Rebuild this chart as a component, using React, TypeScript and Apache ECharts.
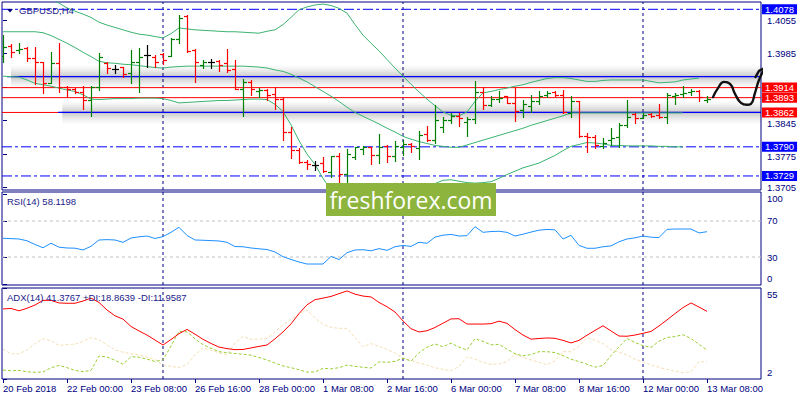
import React, { useEffect, useRef } from "react";
import * as echarts from "echarts";

const timeLabels = ["20 Feb 2018", "22 Feb 00:00", "23 Feb 08:00", "26 Feb 16:00", "28 Feb 00:00", "1 Mar 08:00", "2 Mar 16:00", "6 Mar 00:00", "7 Mar 08:00", "8 Mar 16:00", "12 Mar 00:00", "13 Mar 08:00"];
const timeLabelIdx = [0, 8, 16, 24, 32, 40, 48, 56, 64, 72, 80, 88];
const weekSeparators = [20, 50, 80];

const open = [1.3980,1.4001,1.3993,1.3997,1.3976,1.3968,1.3924,1.3966,1.3915,1.3911,
1.3905,1.3888,1.3915,1.3966,1.3953,1.3957,1.3945,1.3968,1.3982,1.3978,
1.3984,1.3980,1.4016,1.4064,1.3993,1.3961,1.3968,1.3970,1.3966,1.3953,
1.3911,1.3926,1.3907,1.3909,1.3901,1.3890,1.3821,1.3783,1.3758,1.3752,
1.3756,1.3737,1.3771,1.3733,1.3769,1.3785,1.3790,1.3773,1.3792,1.3771,
1.3790,1.3796,1.3788,1.3817,1.3804,1.3832,1.3846,1.3855,1.3842,1.3848,
1.3905,1.3878,1.3890,1.3896,1.3882,1.3867,1.3876,1.3886,1.3899,1.3905,
1.3899,1.3861,1.3886,1.3813,1.3811,1.3792,1.3804,1.3811,1.3836,1.3859,
1.3850,1.3859,1.3857,1.3853,1.3896,1.3901,1.3905,1.3907,1.3888];
const high = [1.4024,1.4005,1.4007,1.3999,1.3999,1.3968,1.3989,1.4007,1.3917,1.3913,
1.3917,1.3917,1.3987,1.3968,1.3961,1.3957,1.3993,1.3997,1.4003,1.3982,
1.3987,1.4018,1.4066,1.4066,1.3995,1.3972,1.3974,1.3972,1.3995,1.3972,
1.3932,1.3930,1.3913,1.3911,1.3915,1.3894,1.3832,1.3788,1.3762,1.3760,
1.3769,1.3771,1.3777,1.3785,1.3790,1.3792,1.3790,1.3817,1.3794,1.3802,
1.3804,1.3798,1.3823,1.3834,1.3878,1.3853,1.3861,1.3861,1.3853,1.3928,
1.3915,1.3896,1.3907,1.3896,1.3913,1.3888,1.3899,1.3907,1.3907,1.3907,
1.3909,1.3896,1.3886,1.3819,1.3815,1.3809,1.3829,1.3840,1.3888,1.3861,
1.3861,1.3861,1.3880,1.3903,1.3903,1.3917,1.3911,1.3909,1.3896];
const low = [1.3968,1.3978,1.3987,1.3970,1.3922,1.3903,1.3924,1.3905,1.3894,1.3903,
1.3869,1.3855,1.3909,1.3945,1.3945,1.3936,1.3924,1.3905,1.3957,1.3957,
1.3964,1.3980,1.4007,1.3989,1.3926,1.3955,1.3955,1.3949,1.3947,1.3911,
1.3855,1.3899,1.3894,1.3888,1.3869,1.3804,1.3767,1.3756,1.3744,1.3742,
1.3737,1.3727,1.3710,1.3714,1.3765,1.3775,1.3754,1.3756,1.3758,1.3760,
1.3773,1.3779,1.3765,1.3802,1.3798,1.3821,1.3840,1.3834,1.3813,1.3840,
1.3869,1.3876,1.3884,1.3882,1.3844,1.3853,1.3863,1.3880,1.3894,1.3896,
1.3861,1.3853,1.3811,1.3779,1.3788,1.3788,1.3794,1.3790,1.3832,1.3840,
1.3850,1.3853,1.3850,1.3840,1.3880,1.3894,1.3899,1.3886,1.3884];
const close = [1.3999,1.3989,1.3995,1.3976,1.3968,1.3924,1.3966,1.3915,1.3911,1.3905,
1.3888,1.3915,1.3978,1.3955,1.3953,1.3943,1.3968,1.3978,1.3982,1.3968,
1.3972,1.4016,1.4060,1.3991,1.3968,1.3968,1.3968,1.3961,1.3951,1.3911,
1.3926,1.3911,1.3909,1.3899,1.3890,1.3821,1.3783,1.3758,1.3754,1.3752,
1.3739,1.3771,1.3733,1.3775,1.3790,1.3790,1.3773,1.3790,1.3771,1.3792,
1.3796,1.3792,1.3815,1.3804,1.3846,1.3846,1.3855,1.3850,1.3848,1.3905,
1.3878,1.3890,1.3892,1.3882,1.3865,1.3880,1.3886,1.3896,1.3903,1.3899,
1.3863,1.3886,1.3813,1.3811,1.3794,1.3798,1.3809,1.3836,1.3853,1.3850,
1.3857,1.3855,1.3853,1.3899,1.3899,1.3903,1.3907,1.3894,1.3890];

const bbUpper = [1.4139,1.4131,1.4123,1.4116,1.4110,1.4106,1.4100,1.4091,1.4081,1.4074,
1.4068,1.4061,1.4051,1.4045,1.4040,1.4035,1.4030,1.4026,1.4024,1.4021,
1.4018,1.4027,1.4039,1.4037,1.4035,1.4034,1.4033,1.4032,1.4031,1.4031,
1.4030,1.4029,1.4028,1.4032,1.4035,1.4046,1.4061,1.4077,1.4083,1.4087,
1.4089,1.4086,1.4080,1.4070,1.4046,1.4024,1.4007,1.3991,1.3973,1.3955,
1.3938,1.3921,1.3905,1.3890,1.3876,1.3863,1.3856,1.3855,1.3863,1.3885,
1.3903,1.3906,1.3910,1.3913,1.3917,1.3920,1.3925,1.3929,1.3933,1.3935,
1.3935,1.3933,1.3930,1.3927,1.3927,1.3929,1.3930,1.3930,1.3930,1.3930,
1.3930,1.3927,1.3924,1.3925,1.3926,1.3930,1.3932,1.3934,null];
const bbMiddle = [1.4031,1.4031,1.4031,1.4031,1.4031,1.4029,1.4023,1.4015,1.4007,1.3998,
1.3988,1.3979,1.3969,1.3966,1.3965,1.3963,1.3962,1.3960,1.3958,1.3956,
1.3955,1.3957,1.3958,1.3959,1.3959,1.3959,1.3959,1.3959,1.3959,1.3959,
1.3959,1.3958,1.3957,1.3955,1.3951,1.3948,1.3942,1.3934,1.3926,1.3916,
1.3906,1.3896,1.3885,1.3873,1.3862,1.3854,1.3846,1.3838,1.3829,1.3821,
1.3812,1.3806,1.3801,1.3797,1.3793,1.3791,1.3789,1.3789,1.3794,1.3799,
1.3804,1.3809,1.3814,1.3819,1.3824,1.3829,1.3835,1.3840,1.3845,1.3850,
1.3855,1.3861,1.3861,1.3861,1.3861,1.3861,1.3861,1.3861,1.3861,1.3861,
1.3861,1.3861,1.3861,1.3861,1.3861,1.3861,null,null,null];
const bbLower = [1.3938,1.3937,1.3936,1.3930,1.3923,1.3920,1.3917,1.3913,1.3909,1.3906,
1.3899,1.3890,1.3889,1.3890,1.3891,1.3891,1.3891,1.3892,1.3892,1.3892,
1.3891,1.3887,1.3882,1.3883,1.3884,1.3885,1.3886,1.3887,1.3887,1.3888,
1.3889,1.3890,1.3890,1.3889,1.3879,1.3864,1.3836,1.3803,1.3775,1.3753,
1.3724,1.3700,1.3681,1.3666,1.3656,1.3647,1.3643,1.3641,1.3643,1.3649,
1.3658,1.3670,1.3685,1.3702,1.3713,1.3720,1.3721,1.3718,1.3715,1.3714,
1.3715,1.3717,1.3724,1.3732,1.3739,1.3746,1.3751,1.3756,1.3764,1.3772,
1.3782,1.3791,1.3795,1.3799,1.3798,1.3796,1.3793,1.3793,1.3792,1.3792,
1.3792,1.3792,1.3791,1.3791,1.3790,1.3790,null,null,null];

const rsi = [50.8,50.4,50.0,48.0,43.9,40.3,45.3,40.9,40.0,39.8,
37.8,41.9,48.9,49.3,48.9,46.3,51.1,52.4,53.3,50.6,
52.6,57.4,63.0,53.9,48.9,48.6,48.2,47.8,46.3,41.6,
41.4,40.0,39.1,38.3,35.6,30.3,27.3,24.4,22.2,22.2,
22.2,30.6,27.2,34.8,37.8,38.1,36.9,39.3,37.4,41.4,
42.8,41.8,46.4,45.2,52.1,54.2,55.1,53.3,53.7,63.7,
57.4,58.3,58.6,57.4,53.3,55.3,57.7,59.8,60.6,60.2,
50.0,54.1,42.8,39.7,39.7,41.4,42.3,46.9,50.0,51.3,
53.3,52.0,51.6,60.7,61.1,61.1,61.1,56.7,58.12];
const adx = [42.8,43.1,41.7,43.2,45.1,47.8,47.8,46.3,46.1,46.1,
47.4,49.1,46.6,42.2,38.8,36.9,32.6,30.0,27.6,24.7,
21.8,25.0,28.4,30.9,28.1,25.1,22.7,20.6,19.7,19.1,
19.2,20.1,21.0,21.8,25.4,29.4,34.1,40.1,45.2,48.2,
49.1,50.1,51.7,53.3,51.4,50.3,49.8,46.6,44.1,41.0,
35.8,31.3,29.4,30.1,32.0,34.5,37.0,37.1,34.0,34.0,
34.0,34.2,35.7,34.4,30.8,27.6,25.2,25.6,25.9,25.7,
24.5,23.0,24.5,27.5,30.3,33.0,30.0,27.0,26.9,27.6,
28.6,29.7,32.9,36.4,40.1,43.6,46.3,43.9,41.38];
const plusDI = [7.2,6.8,7.0,6.2,5.9,6.1,8.5,9.9,8.6,7.0,
6.3,7.0,15.4,14.8,12.9,10.6,15.0,14.7,13.6,12.2,
13.1,21.2,29.8,29.5,25.4,22.0,19.9,17.9,17.3,16.9,
16.4,15.9,14.5,13.1,11.3,9.6,8.6,7.4,6.0,6.1,
8.2,7.9,8.6,10.1,9.4,8.8,8.4,12.0,11.7,12.3,
14.1,12.4,17.3,20.5,22.4,20.8,22.9,20.6,18.9,25.5,
23.9,21.9,22.2,19.4,16.7,15.5,16.2,17.9,17.9,17.4,
15.6,13.5,12.2,10.6,8.9,9.9,15.6,20.7,25.6,23.3,
21.4,20.4,24.0,26.2,26.7,27.8,25.6,22.2,18.86];
const minusDI = [19.5,16.7,16.6,18.9,22.6,25.5,24.3,21.5,22.1,22.3,
23.8,26.1,24.9,21.9,19.0,17.6,16.7,16.0,14.7,13.4,
10.2,9.4,8.7,10.4,16.0,20.2,18.7,17.3,16.0,23.0,
26.8,25.1,25.2,25.7,29.5,33.5,36.7,40.0,42.2,37.5,
33.8,32.1,31.5,31.5,26.1,20.8,22.6,21.0,19.3,17.1,
14.4,12.9,11.3,10.1,8.6,7.6,6.9,9.2,15.0,13.5,
11.7,10.5,10.9,12.1,16.6,14.5,13.1,11.7,10.3,12.5,
17.9,17.9,21.2,26.1,24.6,22.6,19.2,17.6,16.0,13.6,
12.0,10.2,8.8,7.6,6.5,5.7,6.3,12.0,11.96];

const priceTicks = [1.4055, 1.3985, 1.3915, 1.3845, 1.3775, 1.3705];
const priceLabels = [1.4055, 1.3985, 1.3845, 1.3775, 1.3705];
const shiftedPriceLabels = [1.3845, 1.3775];
const rsiTicks = [0, 30, 70, 100];
const rsiLevels = [70, 30];
const adxTicks = [2, 55];
const dashedLevels = [1.4078, 1.3790, 1.3729];
const redLevels = [1.3914, 1.3893, 1.3862];
const zoneLines = [{ value: 1.3937, from: 0.5 }, { value: 1.3862, from: 6.9 }];

const arrowShaft = [[88.75,1.3894],[89.375,1.3913],[90.125,1.3926],[90.875,1.3922],[91.5,1.3901],[92.25,1.3882],[93.0,1.3878],[93.5,1.3880],[94.0,1.3903],[94.5,1.3930],[95.125,1.3951],[95.625,1.3959]];
const arrowHead = [[94.06,1.3936],[94.5,1.3949],[95.6,1.3958],[95.45,1.3942]];

const NAVY = "#000080";
const BLUE = "#0000FF";
const RED = "#FF0000";
const BAND = "#3CB371";
const FONT = "Liberation Sans";
const FS = 9.5;
const X_MIN = -0.125;
const X_MAX = 94.75;
const P_MIN = 1.36996;
const P_MAX = 1.40933;
const R_MIN = -1.1;
const R_MAX = 102.2;
const A_MIN = 2;
const A_MAX = 55;

function buildOption() {
  const xAxis = [0, 1, 2].map((g) => ({
    type: "value",
    gridIndex: g,
    min: X_MIN,
    max: X_MAX,
    splitLine: { show: false },
    axisLine: { show: false },
    axisTick: g === 2 ? { show: true, customValues: timeLabelIdx, length: 4, lineStyle: { color: NAVY } } : { show: false },
    axisLabel: g === 2 ? {
      show: true,
      customValues: timeLabelIdx,
      formatter: (v: number) => timeLabels[timeLabelIdx.indexOf(Math.round(v))] ?? "",
      align: "left",
      margin: 4,
      color: NAVY,
      fontSize: FS,
      fontFamily: FONT,
    } : { show: false },
  }));

  const labelBase = { color: NAVY, fontSize: FS, fontFamily: FONT, lineHeight: 10 };
  const yAxis = [
    {
      type: "value", gridIndex: 0, position: "right", min: P_MIN, max: P_MAX, scale: true,
      splitLine: { show: false }, axisLine: { show: false },
      axisTick: { show: true, customValues: priceTicks, length: 4, lineStyle: { color: NAVY } },
      axisLabel: {
        customValues: priceLabels, margin: 6, ...labelBase,
        formatter: (v: number) => (shiftedPriceLabels.some((s) => Math.abs(v - s) < 1e-6) ? "{d|" + v.toFixed(4) + "}" : v.toFixed(4)),
        rich: { d: { ...labelBase, lineHeight: 9, padding: [5, 0, 0, 0] } },
      },
    },
    {
      type: "value", gridIndex: 1, position: "right", min: R_MIN, max: R_MAX,
      splitLine: { show: false }, axisLine: { show: false },
      axisTick: { show: true, customValues: rsiTicks, length: 4, lineStyle: { color: NAVY } },
      axisLabel: {
        customValues: rsiTicks, margin: 6, ...labelBase,
        formatter: (v: number) => (v === 100 ? "{a|100}" : v === 0 ? "{b|0}" : String(v)),
        rich: { a: { ...labelBase, padding: [10, 0, 0, 0] }, b: { ...labelBase, padding: [0, 0, 12, 0] } },
      },
    },
    {
      type: "value", gridIndex: 2, position: "right", min: A_MIN, max: A_MAX,
      splitLine: { show: false }, axisLine: { show: false },
      axisTick: { show: true, customValues: adxTicks, length: 4, lineStyle: { color: NAVY } },
      axisLabel: {
        customValues: adxTicks, margin: 6, ...labelBase,
        formatter: (v: number) => (v === 55 ? "{a|55}" : "{b|2}"),
        rich: { a: { ...labelBase, padding: [12, 0, 0, 0] }, b: { ...labelBase, padding: [0, 0, 14, 0] } },
      },
    },
  ];

  const series: any[] = [];

  // week separators in each panel
  const ranges = [[P_MIN, P_MAX], [R_MIN, R_MAX], [A_MIN, A_MAX]];
  ranges.forEach((r, g) => {
    weekSeparators.forEach((x) => {
      series.push({
        type: "line", xAxisIndex: g, yAxisIndex: g, data: [[x, r[0]], [x, r[1]]], symbol: "none", silent: true, z: 1,
        lineStyle: { color: NAVY, type: [3, 3], width: 1 },
      });
    });
  });

  // RSI levels
  rsiLevels.forEach((v) => {
    series.push({
      type: "line", xAxisIndex: 1, yAxisIndex: 1, data: [[X_MIN, v], [X_MAX, v]], symbol: "none", silent: true, z: 1,
      lineStyle: { color: "#C0C0C0", type: [3, 3], width: 1 },
    });
  });

  const endLbl = (v: number, bg: string) => ({
    show: true, distance: 1, formatter: v.toFixed(4), backgroundColor: bg, color: "#ffffff",
    padding: [0, 3, 0, 3], fontSize: FS, fontFamily: FONT, lineHeight: 10,
  });

  // soft grey shadow bands under the blue zone lines
  const shadowLayers = [
    { width: 22, color: "rgba(0,0,0,0.022)" },
    { width: 18, color: "rgba(0,0,0,0.028)" },
    { width: 14, color: "rgba(0,0,0,0.034)" },
    { width: 10, color: "rgba(0,0,0,0.04)" },
    { width: 6, color: "rgba(0,0,0,0.045)" },
    { width: 3, color: "rgba(0,0,0,0.05)" },
  ];
  zoneLines.forEach((zl) => {
    shadowLayers.forEach((s) => {
      series.push({
        type: "line", xAxisIndex: 0, yAxisIndex: 0, data: [[zl.from + 0.5, zl.value], [X_MAX, zl.value]], symbol: "none", silent: true, z: 1,
        lineStyle: { color: s.color, width: s.width, cap: "butt" },
      });
    });
  });

  // red levels
  redLevels.forEach((v) => {
    series.push({
      type: "line", xAxisIndex: 0, yAxisIndex: 0, data: [[X_MIN, v], [X_MAX, v]], symbol: "none", silent: true, z: 2,
      lineStyle: { color: RED, width: 1 }, endLabel: endLbl(v, RED),
    });
  });
  // zone lines (blue)
  zoneLines.forEach((zl) => {
    series.push({
      type: "line", xAxisIndex: 0, yAxisIndex: 0, data: [[zl.from, zl.value], [X_MAX, zl.value]], symbol: "none", silent: true, z: 3,
      lineStyle: { color: BLUE, width: 1.2 },
    });
  });
  // dash-dot levels
  dashedLevels.forEach((v) => {
    series.push({
      type: "line", xAxisIndex: 0, yAxisIndex: 0, data: [[X_MIN, v], [X_MAX, v]], symbol: "none", silent: true, z: 2,
      lineStyle: { color: BLUE, width: 1, type: [10, 3, 3, 3] }, endLabel: endLbl(v, BLUE),
    });
  });

  // Bollinger bands
  [bbUpper, bbMiddle, bbLower].forEach((arr) => {
    series.push({
      type: "line", xAxisIndex: 0, yAxisIndex: 0, data: arr.map((v, i) => [i, v]), symbol: "none", silent: true,
      lineStyle: { color: BAND, width: 1 }, z: 3, connectNulls: false,
    });
  });

  // OHLC bars
  const ohlc = open.map((o, i) => [i, o, high[i], low[i], close[i]]);
  series.push({
    type: "custom", xAxisIndex: 0, yAxisIndex: 0, data: ohlc, z: 5, clip: true, silent: true,
    encode: { x: 0, y: [1, 2, 3, 4] },
    renderItem: (params: any, api: any) => {
      const i = api.value(0);
      const o = api.value(1), h = api.value(2), l = api.value(3), c = api.value(4);
      const pO = api.coord([i, o]), pH = api.coord([i, h]), pL = api.coord([i, l]), pC = api.coord([i, c]);
      const x = Math.round(pO[0]) + 0.5;
      const color = c > o ? "#008000" : c < o ? RED : "#000000";
      const style = { stroke: color, lineWidth: 1.2 };
      const yo = Math.round(pO[1]) + 0.5, yc = Math.round(pC[1]) + 0.5;
      return {
        type: "group",
        children: [
          { type: "line", shape: { x1: x, y1: Math.round(pH[1]), x2: x, y2: Math.round(pL[1]) + 1 }, style },
          { type: "line", shape: { x1: x - 3.5, y1: yo, x2: x, y2: yo }, style },
          { type: "line", shape: { x1: x, y1: yc, x2: x + 3.5, y2: yc }, style },
        ],
      };
    },
  });

  // hand-drawn forecast arrow
  series.push({
    type: "line", xAxisIndex: 0, yAxisIndex: 0, data: arrowShaft, smooth: 0.5, symbol: "none", clip: false, z: 10, silent: true,
    lineStyle: { color: "#111111", width: 2.4, cap: "round", join: "round" },
  });
  series.push({
    type: "line", xAxisIndex: 0, yAxisIndex: 0, data: arrowHead, symbol: "none", clip: false, z: 10, silent: true,
    lineStyle: { color: "#111111", width: 2.4, cap: "round", join: "round" },
  });

  // RSI
  series.push({
    type: "line", xAxisIndex: 1, yAxisIndex: 1, data: rsi.map((v, i) => [i, v]), symbol: "none", silent: true,
    lineStyle: { color: "#1E90FF", width: 1 }, z: 3,
  });
  // ADX
  series.push({
    type: "line", xAxisIndex: 2, yAxisIndex: 2, data: minusDI.map((v, i) => [i, v]), symbol: "none", silent: true,
    lineStyle: { color: "#F5DEB3", width: 1, type: [3, 2] }, z: 2,
  });
  series.push({
    type: "line", xAxisIndex: 2, yAxisIndex: 2, data: plusDI.map((v, i) => [i, v]), symbol: "none", silent: true,
    lineStyle: { color: "#9ACD32", width: 1, type: [3, 2] }, z: 3,
  });
  series.push({
    type: "line", xAxisIndex: 2, yAxisIndex: 2, data: adx.map((v, i) => [i, v]), symbol: "none", silent: true,
    lineStyle: { color: RED, width: 1 }, z: 4,
  });

  const textStyle = (text: string) => ({ text, fill: "#1a1a8a", fontSize: FS, fontFamily: FONT, verticalAlign: "middle" });

  return {
    animation: false,
    backgroundColor: "#ffffff",
    grid: [
      { left: 2, top: 2, width: 759, height: 188, show: true, borderColor: NAVY, borderWidth: 1, backgroundColor: "transparent" },
      { left: 2, top: 192, width: 759, height: 93, show: true, borderColor: NAVY, borderWidth: 1, backgroundColor: "transparent" },
      { left: 2, top: 288, width: 759, height: 91, show: true, borderColor: NAVY, borderWidth: 1, backgroundColor: "transparent" },
    ],
    xAxis,
    yAxis,
    series,
    graphic: [
      { type: "polygon", z: 50, shape: { points: [[7, 9], [13, 9], [10, 12.5]] }, style: { fill: NAVY } },
      { type: "text", z: 50, x: 19, y: 10, style: textStyle("GBPUSD,H4") },
      { type: "text", z: 50, x: 7, y: 201, style: textStyle("RSI(14) 58.1198") },
      { type: "text", z: 50, x: 7, y: 297, style: textStyle("ADX(14) 41.3767 +DI:18.8639 -DI:11.9587") },
      { type: "rect", z: 100, x: 326, y: 183, shape: { width: 170, height: 33 }, style: { fill: "#8DB43C" } },
      {
        type: "text", z: 101, x: 411, y: 199.5,
        style: { text: "freshforex.com", fill: "#ffffff", fontSize: 23, fontFamily: "Open Sans", align: "center", verticalAlign: "middle" },
      },
    ],
  };
}

export default function App() {
  const ref = useRef<HTMLDivElement>(null);
  useEffect(() => {
    if (!ref.current) return;
    const chart = echarts.init(ref.current, null, { renderer: "svg" });
    chart.setOption(buildOption() as any);
    return () => chart.dispose();
  }, []);
  return <div ref={ref} style={{ position: "absolute", left: 0, top: 0, width: 800, height: 400 }} />;
}
